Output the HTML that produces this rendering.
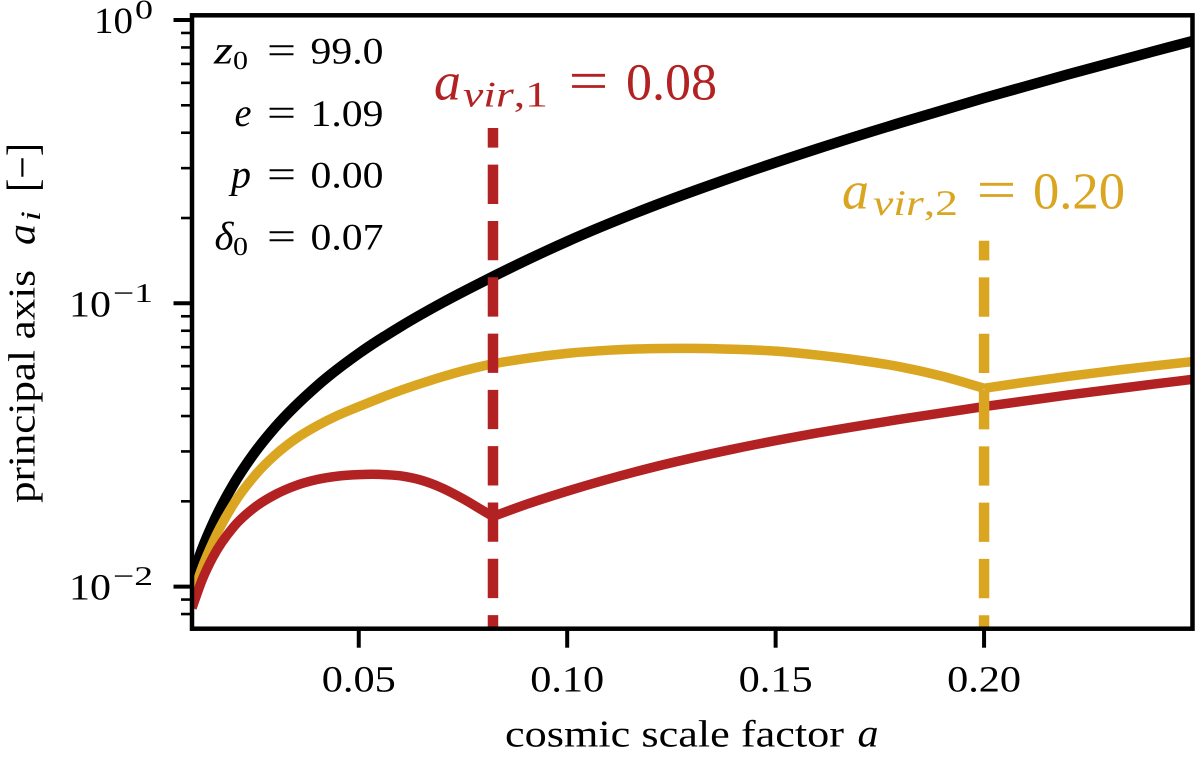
<!DOCTYPE html>
<html lang="en">
<head>
<meta charset="utf-8">
<title>Principal axis vs cosmic scale factor</title>
<style>
html,body{margin:0;padding:0;background:#fff;width:1200px;height:761px;overflow:hidden}
svg{display:block}
text{font-family:"Liberation Serif",serif;text-rendering:geometricPrecision;fill:#000}
.it{font-style:italic}
.red,.red tspan{fill:#B22222}
.gold,.gold tspan{fill:#DAA520}
</style>
</head>
<body>
<svg id="chart" xmlns="http://www.w3.org/2000/svg" width="1200" height="761" viewBox="0 0 1200 761">
  <defs>
    <clipPath id="plot-clip"><rect x="192" y="15.3" width="1000.5" height="613.4"></rect></clipPath>
  </defs>
  <g id="ticks"></g>
  <g id="series" clip-path="url(#plot-clip)"></g>
  <g id="vlines" clip-path="url(#plot-clip)"></g>
  <rect x="192" y="15.3" width="1000.5" height="613.4" fill="none" stroke="#000" stroke-width="4.5"></rect>

  <g>
    <g>
      <text class="it" x="214" y="63.3" font-size="40" textLength="19" lengthAdjust="spacingAndGlyphs">z</text>
      <text x="233" y="69" font-size="26" textLength="15" lengthAdjust="spacingAndGlyphs">0</text>
      <text x="267" y="63.3" font-size="40" textLength="29" lengthAdjust="spacingAndGlyphs">=</text>
      <text x="310.5" y="63.3" font-size="37.5" textLength="73" lengthAdjust="spacingAndGlyphs">99.0</text>
    </g>
    <g>
      <text class="it" x="234.5" y="126" font-size="40" textLength="17" lengthAdjust="spacingAndGlyphs">e</text>
      <text x="267" y="126" font-size="40" textLength="29" lengthAdjust="spacingAndGlyphs">=</text>
      <text x="310.5" y="126" font-size="37.5" textLength="73" lengthAdjust="spacingAndGlyphs">1.09</text>
    </g>
    <g>
      <text class="it" x="231" y="187.5" font-size="40" textLength="20" lengthAdjust="spacingAndGlyphs">p</text>
      <text x="267" y="187.5" font-size="40" textLength="29" lengthAdjust="spacingAndGlyphs">=</text>
      <text x="310.5" y="187.5" font-size="37.5" textLength="73" lengthAdjust="spacingAndGlyphs">0.00</text>
    </g>
    <g>
      <text class="it" x="214.5" y="249.5" font-size="40" textLength="19" lengthAdjust="spacingAndGlyphs">δ</text>
      <text x="233" y="255" font-size="26" textLength="15" lengthAdjust="spacingAndGlyphs">0</text>
      <text x="267" y="249.5" font-size="40" textLength="29" lengthAdjust="spacingAndGlyphs">=</text>
      <text x="310.5" y="249.5" font-size="37.5" textLength="73" lengthAdjust="spacingAndGlyphs">0.07</text>
    </g>
  </g>

  <g>
    <text class="it red" x="434" y="99.3" font-size="54" textLength="27" lengthAdjust="spacingAndGlyphs">a</text>
    <text class="red" x="463" y="106.7" font-size="36" textLength="85" lengthAdjust="spacingAndGlyphs"><tspan class="it">vir</tspan>,1</text>
    <text class="red" x="568.5" y="99.3" font-size="56" textLength="40" lengthAdjust="spacingAndGlyphs">=</text>
    <text class="red" x="626" y="99.3" font-size="52" textLength="91" lengthAdjust="spacingAndGlyphs">0.08</text>
  </g>
  <g>
    <text class="it gold" x="842" y="208.3" font-size="54" textLength="27" lengthAdjust="spacingAndGlyphs">a</text>
    <text class="gold" x="873" y="215" font-size="36" textLength="85" lengthAdjust="spacingAndGlyphs"><tspan class="it">vir</tspan>,2</text>
    <text class="gold" x="976.5" y="208.3" font-size="56" textLength="40" lengthAdjust="spacingAndGlyphs">=</text>
    <text class="gold" x="1033" y="208.3" font-size="52" textLength="92" lengthAdjust="spacingAndGlyphs">0.20</text>
  </g>

  <g>
    <text x="505" y="746.7" font-size="38" textLength="339" lengthAdjust="spacingAndGlyphs">cosmic scale factor</text>
    <text class="it" x="857.5" y="746.7" font-size="40" textLength="21" lengthAdjust="spacingAndGlyphs">a</text>
  </g>
  <g transform="translate(34.5,503) rotate(-90)">
    <text x="0" y="0" font-size="38" textLength="233" lengthAdjust="spacingAndGlyphs">principal axis</text>
    <text class="it" x="258" y="0" font-size="40" textLength="21" lengthAdjust="spacingAndGlyphs">a</text>
    <text class="it" x="282" y="5.5" font-size="28" textLength="10" lengthAdjust="spacingAndGlyphs">i</text>
    <text x="311" y="2.5" font-size="44" textLength="49" lengthAdjust="spacingAndGlyphs">[−]</text>
  </g>
</svg>
<script>
const xTicks = [0.05, 0.10, 0.15, 0.20];
const xTickLabels = ["0.05", "0.10", "0.15", "0.20"];
const yMajorTicks = [1, 0.1, 0.01];
const yMajorExponents = ["0", "−1", "−2"];
const yMinorTicks = [0.9, 0.8, 0.7, 0.6, 0.5, 0.4, 0.3, 0.2, 0.09, 0.08, 0.07, 0.06, 0.05, 0.04, 0.03, 0.02, 0.009, 0.008];

const blackA = [0.01, 0.0125, 0.015, 0.02, 0.025, 0.03, 0.04, 0.05, 0.06, 0.07, 0.08, 0.10, 0.12, 0.14, 0.16, 0.18, 0.20, 0.22, 0.24, 0.25];
const blackV = [0.01072, 0.01365, 0.01667, 0.02301, 0.02968, 0.03660, 0.05111, 0.06649, 0.08276, 0.1004, 0.1197, 0.1654, 0.2186, 0.2797, 0.3511, 0.4341, 0.5304, 0.6418, 0.7704, 0.8429];

const goldA = [0.01, 0.0125, 0.015, 0.02, 0.025, 0.03, 0.035, 0.04, 0.045, 0.05, 0.055, 0.06, 0.065, 0.07, 0.08, 0.09, 0.10, 0.11, 0.12, 0.13, 0.14, 0.15, 0.16, 0.17, 0.18, 0.19, 0.20, 0.21, 0.22, 0.23, 0.24, 0.25];
const goldV = [0.00919, 0.01175, 0.01435, 0.01959, 0.02459, 0.02920, 0.03334, 0.03694, 0.04023, 0.04318, 0.04622, 0.04925, 0.05215, 0.05503, 0.06017, 0.06383, 0.06657, 0.06831, 0.06921, 0.06932, 0.06881, 0.06782, 0.06566, 0.06295, 0.05963, 0.05527, 0.05013, 0.05267, 0.05517, 0.05760, 0.05999, 0.06223];

const redA = [0.01, 0.0125, 0.015, 0.02, 0.025, 0.03, 0.035, 0.04, 0.045, 0.05, 0.055, 0.06, 0.065, 0.07, 0.075, 0.08, 0.0822, 0.09, 0.10, 0.12, 0.14, 0.16, 0.18, 0.20, 0.22, 0.24, 0.25];
const redV = [0.00840, 0.01062, 0.01270, 0.01626, 0.01902, 0.02114, 0.02276, 0.02388, 0.02455, 0.02485, 0.02489, 0.02460, 0.02374, 0.02228, 0.02042, 0.01847, 0.01768, 0.01947, 0.02172, 0.02625, 0.03062, 0.03486, 0.03899, 0.04319, 0.04742, 0.05173, 0.05388];

const aVir1 = 0.0822;
const aVir2 = 0.20;
const vir1Top = 0.4158;
const vir2Top = 0.1663;

const xDomain = [0.01, 0.25];
const yDomain = [-2.1486, 0.0166];

const NS = "http://www.w3.org/2000/svg";
function xScale(a) { return 192 + (a - xDomain[0]) / (xDomain[1] - xDomain[0]) * 1000.5; }
function yScale(v) { return 628.7 - (Math.log10(v) - yDomain[0]) / (yDomain[1] - yDomain[0]) * 613.4; }

function segmentPath(seg) {
  const n = seg.length;
  const m = [];
  for (let i = 0; i < n; i++) {
    if (i === 0) {
      m.push((seg[1][1] - seg[0][1]) / (seg[1][0] - seg[0][0]));
    } else if (i === n - 1) {
      m.push((seg[i][1] - seg[i - 1][1]) / (seg[i][0] - seg[i - 1][0]));
    } else {
      const h0 = seg[i][0] - seg[i - 1][0], h1 = seg[i + 1][0] - seg[i][0];
      const d0 = (seg[i][1] - seg[i - 1][1]) / h0, d1 = (seg[i + 1][1] - seg[i][1]) / h1;
      m.push((d0 * h1 + d1 * h0) / (h0 + h1));
    }
  }
  let d = "M" + seg[0][0].toFixed(2) + " " + seg[0][1].toFixed(2);
  for (let i = 0; i < n - 1; i++) {
    const h = seg[i + 1][0] - seg[i][0];
    d += "C" + (seg[i][0] + h / 3).toFixed(2) + " " + (seg[i][1] + m[i] * h / 3).toFixed(2) + " " +
      (seg[i + 1][0] - h / 3).toFixed(2) + " " + (seg[i + 1][1] - m[i + 1] * h / 3).toFixed(2) + " " +
      seg[i + 1][0].toFixed(2) + " " + seg[i + 1][1].toFixed(2);
  }
  return d;
}

function smoothPath(as, vs, cusp) {
  const pts = as.map((a, i) => [xScale(a), yScale(vs[i]), a]);
  const parts = [];
  let cur = [];
  pts.forEach(p => {
    cur.push(p);
    if (p[2] === cusp) { parts.push(cur); cur = [p]; }
  });
  if (cur.length > 1) parts.push(cur);
  return parts.map(segmentPath).join("");
}

const ticksG = document.getElementById("ticks");
const seriesG = document.getElementById("series");
const vlinesG = document.getElementById("vlines");

xTicks.forEach((t, i) => {
  const line = document.createElementNS(NS, "line");
  
  
  line.setAttribute("x1", xScale(t));
  line.setAttribute("x2", xScale(t));
  line.setAttribute("y1", 628.7);
  line.setAttribute("y2", 647.7);
  line.setAttribute("stroke", "#000");
  line.setAttribute("stroke-width", 4);
  ticksG.appendChild(line);
  const label = document.createElementNS(NS, "text");
  
  
  label.setAttribute("x", xScale(t) - 37);
  label.setAttribute("y", 691.7);
  label.setAttribute("font-size", 37);
  label.setAttribute("textLength", 74);
  label.setAttribute("lengthAdjust", "spacingAndGlyphs");
  label.textContent = xTickLabels[i];
  ticksG.appendChild(label);
});

yMajorTicks.forEach((t, i) => {
  const line = document.createElementNS(NS, "line");
  
  
  line.setAttribute("x1", 173.5);
  line.setAttribute("x2", 192);
  line.setAttribute("y1", yScale(t));
  line.setAttribute("y2", yScale(t));
  line.setAttribute("stroke", "#000");
  line.setAttribute("stroke-width", 4);
  ticksG.appendChild(line);
  const exp = yMajorExponents[i];
  const supW = 18 + (exp.length - 1) * 22;
  const baseW = 39 + (exp.length - 1) * 3;
  const base = document.createElementNS(NS, "text");
  
  
  base.setAttribute("x", 153 - supW - 2 - baseW);
  base.setAttribute("y", yScale(t) + 13);
  base.setAttribute("font-size", 37);
  base.setAttribute("textLength", baseW);
  base.setAttribute("lengthAdjust", "spacingAndGlyphs");
  base.textContent = "10";
  ticksG.appendChild(base);
  const sup = document.createElementNS(NS, "text");
  
  
  sup.setAttribute("x", 153 - supW);
  sup.setAttribute("y", yScale(t) - 1.5);
  sup.setAttribute("font-size", 27);
  sup.setAttribute("textLength", supW);
  sup.setAttribute("lengthAdjust", "spacingAndGlyphs");
  sup.textContent = exp;
  ticksG.appendChild(sup);
});

yMinorTicks.forEach(t => {
  const line = document.createElementNS(NS, "line");
  
  
  line.setAttribute("x1", 181);
  line.setAttribute("x2", 192);
  line.setAttribute("y1", yScale(t));
  line.setAttribute("y2", yScale(t));
  line.setAttribute("stroke", "#000");
  line.setAttribute("stroke-width", 2.6);
  ticksG.appendChild(line);
});

const blackPath = document.createElementNS(NS, "path");


blackPath.setAttribute("d", smoothPath(blackA, blackV, null));
blackPath.setAttribute("fill", "none");
blackPath.setAttribute("stroke", "#000");
blackPath.setAttribute("stroke-width", 10.5);
seriesG.appendChild(blackPath);

const goldPath = document.createElementNS(NS, "path");


goldPath.setAttribute("d", smoothPath(goldA, goldV, aVir2));
goldPath.setAttribute("fill", "none");
goldPath.setAttribute("stroke", "#DAA520");
goldPath.setAttribute("stroke-width", 9.5);
seriesG.appendChild(goldPath);

const redPath = document.createElementNS(NS, "path");


redPath.setAttribute("d", smoothPath(redA, redV, aVir1));
redPath.setAttribute("fill", "none");
redPath.setAttribute("stroke", "#B22222");
redPath.setAttribute("stroke-width", 9.5);
seriesG.appendChild(redPath);

const vir1Line = document.createElementNS(NS, "line");


vir1Line.setAttribute("x1", xScale(aVir1));
vir1Line.setAttribute("x2", xScale(aVir1));
vir1Line.setAttribute("y1", yScale(vir1Top));
vir1Line.setAttribute("y2", 640);
vir1Line.setAttribute("stroke", "#B22222");
vir1Line.setAttribute("stroke-width", 10.5);
vir1Line.setAttribute("stroke-dasharray", "39.3 17");
vir1Line.setAttribute("stroke-dashoffset", 19.6);
vlinesG.appendChild(vir1Line);

const vir2Line = document.createElementNS(NS, "line");


vir2Line.setAttribute("x1", xScale(aVir2));
vir2Line.setAttribute("x2", xScale(aVir2));
vir2Line.setAttribute("y1", yScale(vir2Top));
vir2Line.setAttribute("y2", 640);
vir2Line.setAttribute("stroke", "#DAA520");
vir2Line.setAttribute("stroke-width", 10.5);
vir2Line.setAttribute("stroke-dasharray", "39.3 17");
vir2Line.setAttribute("stroke-dashoffset", 19.6);
vlinesG.appendChild(vir2Line);
</script>
</body>
</html>
